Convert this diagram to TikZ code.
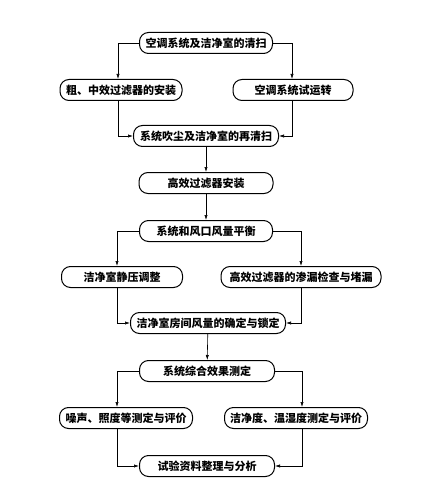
\documentclass[tikz,border=0pt]{standalone}
\usepackage{fontspec}
\newfontfamily\cjk{Noto Sans CJK SC}
\usetikzlibrary{arrows.meta}

\begin{document}
\begin{tikzpicture}[x=1pt,y=-1pt,
  proc/.style={draw, line width=1pt, rounded corners=9pt, minimum height=21pt,
    inner sep=0pt, font=\cjk\bfseries\fontsize{11}{12}\selectfont},
  flow/.style={-{Latex[length=5pt,width=3.2pt]}, line width=0.6pt}]
\useasboundingbox (0,0) rectangle (423,489);
% columns of the side branches
\coordinate (La) at (118,0);
\coordinate (Ra) at (292,0);
\coordinate (Lb) at (117,0);
\coordinate (Rb) at (301,0);
\coordinate (Lc) at (117,0);
\coordinate (Rc) at (302,0);
\node[proc, minimum width=133pt] (clean) at (206,43) {空调系统及洁净室的清扫};
\node[proc, minimum width=122pt] (filter) at (121,90) {粗、中效过滤器的安装};
\node[proc, minimum width=120pt] (trial) at (293,90) {空调系统试运转};
\node[proc, minimum width=145pt] (reclean) at (206,136) {系统吹尘及洁净室的再清扫};
\node[proc, minimum width=134pt] (hepa) at (206,183) {高效过滤器安装};
\node[proc, minimum width=133pt] (balance) at (206,231) {系统和风口风量平衡};
\node[proc, minimum width=121pt] (press) at (122,277) {洁净室静压调整};
\node[proc, minimum width=160pt] (leak) at (301,277) {高效过滤器的渗漏检查与堵漏};
\node[proc, minimum width=155pt] (room) at (208,323) {洁净室房间风量的确定与锁定};
\node[proc, minimum width=135pt] (effect) at (207,371) {系统综合效果测定};
\node[proc, minimum width=133pt] (noise) at (126,418) {噪声、照度等测定与评价};
\node[proc, minimum width=143pt] (purity) at (296,418) {洁净度、温湿度测定与评价};
\node[proc, minimum width=135pt] (report) at (207,466) {试验资料整理与分析};
\draw[flow] (clean.west) -| (filter.north -| La);
\draw[flow] (clean.east) -| (trial.north -| Ra);
\draw[flow] (filter.south -| La) |- (reclean.west);
\draw[flow] (trial.south -| Ra) |- (reclean.east);
\draw[flow] (reclean) -- (hepa);
\draw[flow] (hepa) -- (balance);
\draw[flow] (balance.west) -| (press.north -| Lb);
\draw[flow] (balance.east) -| (leak.north -| Rb);
\draw[flow] (press.south -| Lb) |- (room.west);
\draw[flow] (leak.south -| Rb) |- (room.east);
\draw[flow] (room) -- (effect);
\draw[flow] (effect.west) -| (noise.north -| Lc);
\draw[flow] (effect.east) -| (purity.north -| Rc);
\draw[flow] (noise.south -| Lc) |- (report.west);
\draw[flow] (purity.south -| Rc) |- (report.east);
\end{tikzpicture}
\end{document}
